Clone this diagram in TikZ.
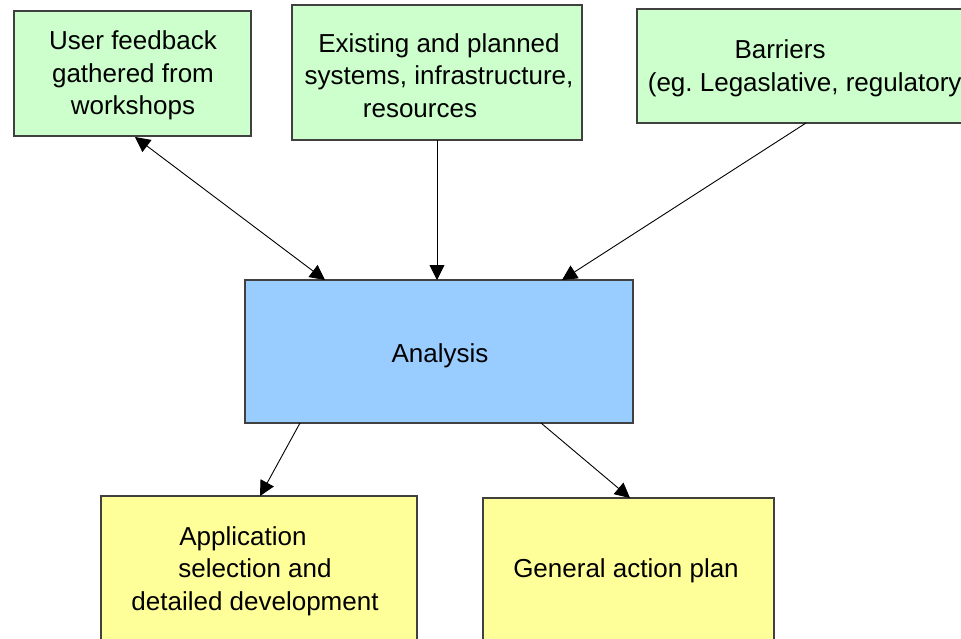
\documentclass[tikz,border=0pt]{standalone}
\usepackage{fontspec}
\setmainfont{Liberation Sans}
\usetikzlibrary{arrows.meta}
\definecolor{boxgreen}{HTML}{CCFFCC}
\definecolor{boxblue}{HTML}{99CCFF}
\definecolor{boxyellow}{HTML}{FFFF99}
\definecolor{boxline}{HTML}{404040}
\frenchspacing
\tikzset{
  box/.style={draw=boxline, line width=1.4pt, rectangle, inner sep=0pt, outer sep=0pt},
  txt/.style={font=\fontsize{26}{32.5}\selectfont, align=center, inner sep=0pt},
  conn/.style={line width=0.9pt, -{Triangle[length=15pt,width=15pt]}},
  conn2/.style={line width=0.9pt, {Triangle[length=15pt,width=15pt]}-{Triangle[length=15pt,width=15pt]}}
}
\begin{document}
\begin{tikzpicture}[x=1pt,y=-1pt]
\useasboundingbox (0,0) rectangle (961,638);
\fill[white] (0,0) rectangle (961,638);

\node[box, fill=boxgreen, minimum width=237pt, minimum height=125pt] (b1) at (132.5,73.5) {};
\node[box, fill=boxgreen, minimum width=290pt, minimum height=135pt] (b2) at (437,72.5) {};
\node[box, fill=boxgreen, minimum width=338pt, minimum height=114pt] (b3) at (806,66) {};
\node[box, fill=boxblue, minimum width=388pt, minimum height=143pt] (an) at (439,351.5) {};
\node[box, fill=boxyellow, minimum width=316pt, minimum height=162pt] (app) at (259,577) {};
\node[box, fill=boxyellow, minimum width=291pt, minimum height=160pt] (gen) at (628.5,578) {};

\node[txt] (t1) at (133,75.5) {User feedback\\gathered from\\workshops};
\node[txt] (t2) at (439,75.5) {Existing and planned\\systems, infrastructure,\\resources\hspace*{38pt}};
\node[txt] (t3) at (809,68.5) {Barriers\hspace*{58pt}\\(eg. Legaslative, regulatory)};
\node[txt] (t4) at (440,356) {Analysis};
\node[txt] (t5) at (255,571) {Application\hspace*{24pt}\\selection and\hspace*{18pt}\\detailed development};
\node[txt] (t6) at (626,571) {General action plan};

\draw[conn2] ([xshift=2.5pt,yshift=-1pt]b1.south) -- ([xshift=-114pt]an.north);
\draw[conn] (b2.south) -- (b2.south |- an.north);
\draw[conn] (b3.south) -- ([xshift=123pt]an.north);
\draw[conn] ([xshift=-139pt]an.south) -- ([xshift=1pt]app.north);
\draw[conn] ([xshift=102pt]an.south) -- ([xshift=1.5pt]gen.north);
\end{tikzpicture}
\end{document}
